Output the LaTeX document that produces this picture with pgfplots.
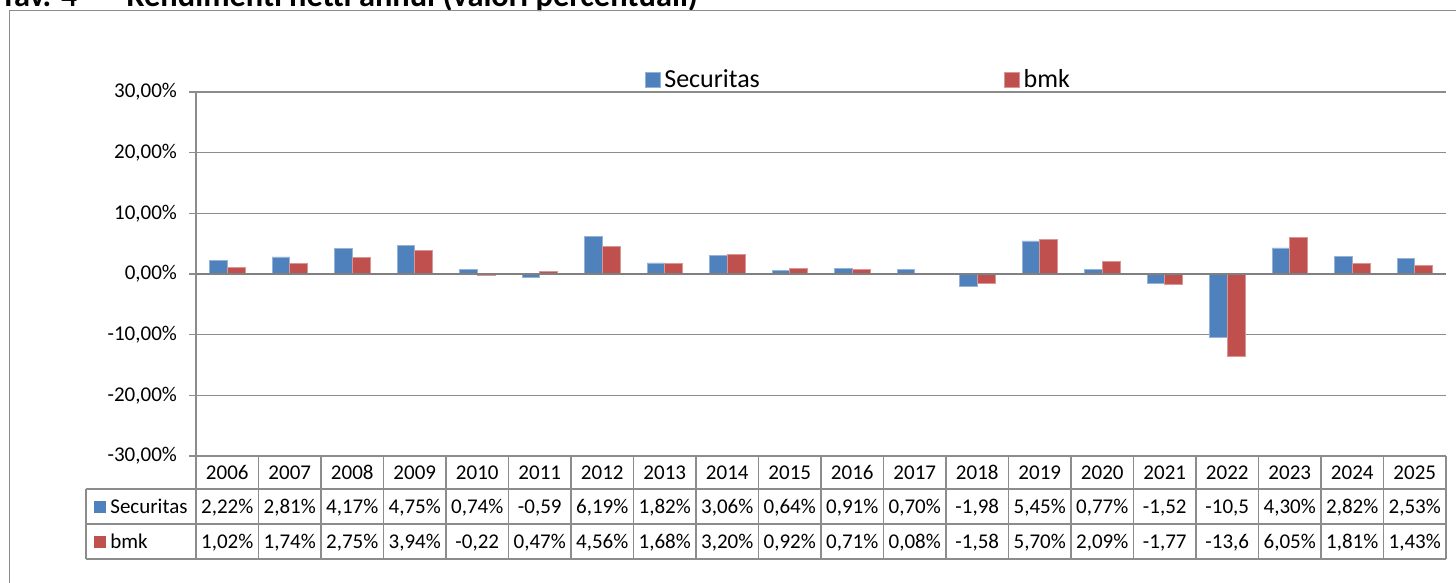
\documentclass[border=0pt]{standalone}
\usepackage{fontspec}
\setmainfont{Carlito}
\usepackage{pgfplots}
\usepackage{pgfplotstable}
\pgfplotsset{compat=1.18}
\definecolor{secblue}{HTML}{4F81BD}
\definecolor{bmkred}{HTML}{C0504D}
\definecolor{gridgray}{HTML}{8C8C8C}
\definecolor{axisgray}{HTML}{808080}
\definecolor{framegray}{HTML}{8C8C8C}

\pgfplotstableread{
x sec bmk
0 2.22 1.02
1 2.81 1.74
2 4.17 2.75
3 4.75 3.94
4 0.74 -0.22
5 -0.59 0.47
6 6.19 4.56
7 1.82 1.68
8 3.06 3.20
9 0.64 0.92
10 0.91 0.71
11 0.70 0.08
12 -1.98 -1.58
13 5.45 5.70
14 0.77 2.09
15 -1.52 -1.77
16 -10.5 -13.6
17 4.30 6.05
18 2.82 1.81
19 2.53 1.43
}\datatable

\newcommand\secval[1]{\ifcase#1 2,22\%\or 2,81\%\or 4,17\%\or 4,75\%\or 0,74\%\or -0,59\or 6,19\%\or 1,82\%\or 3,06\%\or 0,64\%\or 0,91\%\or 0,70\%\or -1,98\or 5,45\%\or 0,77\%\or -1,52\or -10,5\or 4,30\%\or 2,82\%\or 2,53\%\fi}
\newcommand\bmkval[1]{\ifcase#1 1,02\%\or 1,74\%\or 2,75\%\or 3,94\%\or -0,22\or 0,47\%\or 4,56\%\or 1,68\%\or 3,20\%\or 0,92\%\or 0,71\%\or 0,08\%\or -1,58\or 5,70\%\or 2,09\%\or -1,77\or -13,6\or 6,05\%\or 1,81\%\or 1,43\%\fi}

\begin{document}
\begin{tikzpicture}
\path[use as bounding box, clip] (0,0) rectangle (728pt,-291.5pt);
% title (cut off at top)
\node[anchor=base west, inner sep=0pt, font=\bfseries\fontsize{16.2}{18}\selectfont] at (0pt,-3.2pt) {Tav. 4};
\node[anchor=base west, inner sep=0pt, font=\bfseries\fontsize{16.2}{18}\selectfont] at (63pt,-3.2pt) {Rendimenti netti annui (valori percentuali)};
% chart frame
\draw[framegray, line width=0.8pt] (4.75pt,-400pt) -- (4.75pt,-5.3pt) -- (800pt,-5.3pt);
\begin{axis}[
  at={(98pt,-228pt)}, anchor=south west,
  scale only axis, width=625pt, height=182pt,
  xmin=-0.5, xmax=19.5, ymin=-30, ymax=30,
  axis y line*=left, axis x line*=bottom,
  axis line style={gridgray, line width=0.8pt, -},
  xtick=\empty,
  ytick={-30,-20,-10,0,10,20,30},
  yticklabels={{-30,00\%},{-20,00\%},{-10,00\%},{0,00\%},{10,00\%},{20,00\%},{30,00\%}},
  yticklabel style={font=\fontsize{10.5}{12}\selectfont, anchor=east, xshift=-2.5pt},
  tick align=outside, major tick length=3.5pt,
  tick style={gridgray, line width=0.8pt},
  ymajorgrids, grid style={gridgray, line width=0.8pt},
  ybar=0pt, bar width=8.85pt,
  clip=false,
  legend columns=2,
  legend style={draw=none, fill=none, at={(0.3585,1.032)}, anchor=west, inner sep=0pt,
    font=\fontsize{13}{15}\selectfont,
    /tikz/every even column/.append style={column sep=120pt}},
  legend image code/.code={\fill[#1] (-1.5pt,-3.3pt) rectangle (6pt,4.2pt);},
]
\addplot[fill=secblue, draw=secblue!60!white, line width=0.4pt] table[x=x, y=sec] {\datatable};
\addplot[fill=bmkred, draw=bmkred!60!white, line width=0.4pt] table[x=x, y=bmk] {\datatable};
\legend{Securitas, bmk}
% zero line
\draw[axisgray, line width=1.4pt] (axis cs:-0.5,0) -- (axis cs:19.5,0);
% data table lines
\pgfplotsinvokeforeach{-0.5,0.5,...,19.5}{
  \draw[gridgray, line width=0.8pt] (axis cs:#1,-30) -- ++(0pt,-51.5pt);
}
\draw[gridgray, line width=0.8pt] ([xshift=-55pt,yshift=-16.5pt]axis cs:-0.5,-30) -- ([yshift=-16.5pt]axis cs:19.5,-30);
\draw[gridgray, line width=0.8pt] ([xshift=-55pt,yshift=-34pt]axis cs:-0.5,-30) -- ([yshift=-34pt]axis cs:19.5,-30);
\draw[gridgray, line width=0.8pt] ([xshift=-55pt,yshift=-51.5pt]axis cs:-0.5,-30) -- ([yshift=-51.5pt]axis cs:19.5,-30);
\draw[gridgray, line width=0.8pt] ([xshift=-55pt,yshift=-16.5pt]axis cs:-0.5,-30) -- ([xshift=-55pt,yshift=-51.5pt]axis cs:-0.5,-30);
% row headers
\fill[secblue] ([xshift=-51pt,yshift=-28.5pt]axis cs:-0.5,-30) rectangle ++(6pt,6pt);
\fill[bmkred] ([xshift=-51pt,yshift=-46pt]axis cs:-0.5,-30) rectangle ++(6pt,6pt);
\node[anchor=base west, inner sep=0pt, font=\fontsize{10.5}{12}\selectfont] at ([xshift=-43pt,yshift=-28.5pt]axis cs:-0.5,-30) {Securitas};
\node[anchor=base west, inner sep=0pt, font=\fontsize{10.5}{12}\selectfont] at ([xshift=-43pt,yshift=-46pt]axis cs:-0.5,-30) {bmk};
% table cells
\pgfplotsinvokeforeach{0,...,19}{
  \node[anchor=base, inner sep=0pt, font=\fontsize{10.5}{12}\selectfont] at ([yshift=-11.5pt]axis cs:#1,-30) {\the\numexpr2006+#1\relax};
  \node[anchor=base, inner sep=0pt, font=\fontsize{10.5}{12}\selectfont] at ([yshift=-28.5pt]axis cs:#1,-30) {\secval{#1}};
  \node[anchor=base, inner sep=0pt, font=\fontsize{10.5}{12}\selectfont] at ([yshift=-46pt]axis cs:#1,-30) {\bmkval{#1}};
}
\end{axis}
\end{tikzpicture}
\end{document}
